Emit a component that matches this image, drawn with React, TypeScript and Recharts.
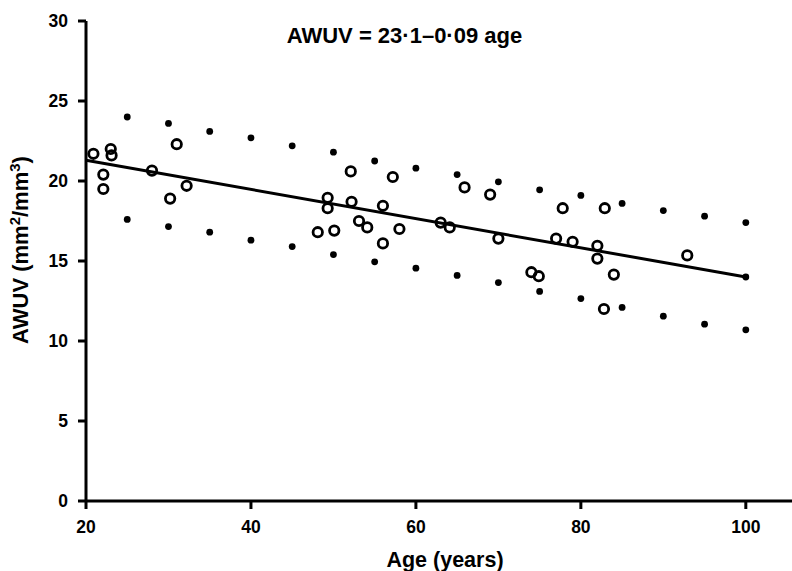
import React from 'react';
import { ScatterChart, Scatter, XAxis, YAxis, ReferenceLine, Label } from 'recharts';

// Prediction-limit dots (upper and lower), by age
const limitAges = [25, 30, 35, 40, 45, 50, 55, 60, 65, 70, 75, 80, 85, 90, 95, 100];
const upperLimit = [24.0, 23.6, 23.1, 22.7, 22.2, 21.8, 21.25, 20.8, 20.4, 19.95, 19.45, 19.1, 18.6, 18.15, 17.8, 17.4];
const lowerLimit = [17.6, 17.15, 16.8, 16.3, 15.9, 15.4, 14.95, 14.55, 14.1, 13.65, 13.1, 12.65, 12.1, 11.55, 11.05, 10.7];

// Individual subjects (open circles)
const subjectAges = [20.9, 23.0, 23.1, 22.1, 22.1, 28.0, 31.0, 30.2, 32.2, 48.1, 49.3, 49.3, 50.1, 52.1, 52.2, 53.1, 54.1, 56.0, 56.0, 57.2, 58.0, 63.0, 64.1, 65.9, 69.0, 70.0, 74.0, 74.9, 77.0, 77.8, 79.0, 82.0, 82.0, 82.9, 82.8, 84.0, 92.9];
const subjectAWUV = [21.7, 22.0, 21.6, 20.4, 19.5, 20.65, 22.3, 18.9, 19.7, 16.8, 18.95, 18.3, 16.9, 20.6, 18.7, 17.5, 17.1, 18.45, 16.1, 20.25, 17.0, 17.4, 17.1, 19.6, 19.15, 16.4, 14.3, 14.05, 16.4, 18.3, 16.2, 15.95, 15.15, 18.3, 12.0, 14.15, 15.35];

// Regression line endpoints
const lineAges = [20, 100];
const lineAWUV = [21.3, 14.0];

const xTicks = [20, 40, 60, 80, 100];
const yTicks = [0, 5, 10, 15, 20, 25, 30];

const FONT = '"Liberation Sans", Arial, Helvetica, sans-serif';

const limitData = [
  ...limitAges.map((a, i) => ({ x: a, y: upperLimit[i] })),
  ...limitAges.map((a, i) => ({ x: a, y: lowerLimit[i] })),
  { x: lineAges[1], y: lineAWUV[1] },
];
const subjectData = subjectAges.map((a, i) => ({ x: a, y: subjectAWUV[i] }));

const Dot = (props: any) => <circle cx={props.cx} cy={props.cy} r={3.4} fill="#000" />;
const Ring = (props: any) => (
  <circle cx={props.cx} cy={props.cy} r={4.7} fill="none" stroke="#000" strokeWidth={2.8} />
);

export default function App() {
  return (
    <div style={{ position: 'absolute', left: 0, top: 0, background: '#fff' }}>
      <ScatterChart
        width={792}
        height={571}
        margin={{ top: 21, right: 0, bottom: 0, left: 0 }}
        style={{ fontFamily: FONT }}
      >
        <XAxis
          type="number"
          dataKey="x"
          domain={[20, 105.6]}
          ticks={xTicks}
          allowDataOverflow
          height={70}
          axisLine={{ stroke: '#000', strokeWidth: 3 }}
          tickLine={{ stroke: '#000', strokeWidth: 3 }}
          tickSize={8}
          tickMargin={12}
          tick={{ fill: '#000', fontSize: 17.5, fontWeight: 'bold', fontFamily: FONT }}
        >
          <Label
            content={() => (
              <text x={445} y={567} textAnchor="middle" fontSize={21.5} fontWeight="bold" fontFamily={FONT} fill="#000">
                Age (years)
              </text>
            )}
          />
        </XAxis>
        <YAxis
          type="number"
          dataKey="y"
          domain={[0, 30]}
          ticks={yTicks}
          width={86}
          axisLine={{ stroke: '#000', strokeWidth: 3 }}
          tickLine={{ stroke: '#000', strokeWidth: 3 }}
          tickSize={8}
          tickMargin={10}
          tick={{ fill: '#000', fontSize: 17.5, fontWeight: 'bold', fontFamily: FONT }}
        >
          <Label
            content={() => (
              <g>
                <text
                  x={27.5}
                  y={250}
                  transform="rotate(-90, 27.5, 250)"
                  textAnchor="middle"
                  fontSize={22}
                  fontWeight="bold"
                  fontFamily={FONT}
                  fill="#000"
                >
                  AWUV (mm<tspan fontSize={15} dy={-8}>2</tspan>
                  <tspan dy={8}>/mm</tspan>
                  <tspan fontSize={15} dy={-8}>3</tspan>
                  <tspan dy={8}>)</tspan>
                </text>
                <text x={404.5} y={43} textAnchor="middle" fontSize={22} fontWeight="bold" fontFamily={FONT} fill="#000">
                  AWUV = 23·1–0·09 age
                </text>
              </g>
            )}
          />
        </YAxis>
        <ReferenceLine
          segment={[
            { x: lineAges[0], y: lineAWUV[0] },
            { x: lineAges[1], y: lineAWUV[1] },
          ]}
          stroke="#000"
          strokeWidth={3}
        />
        <Scatter data={limitData} shape={Dot} isAnimationActive={false} />
        <Scatter data={subjectData} shape={Ring} isAnimationActive={false} />
      </ScatterChart>
    </div>
  );
}
